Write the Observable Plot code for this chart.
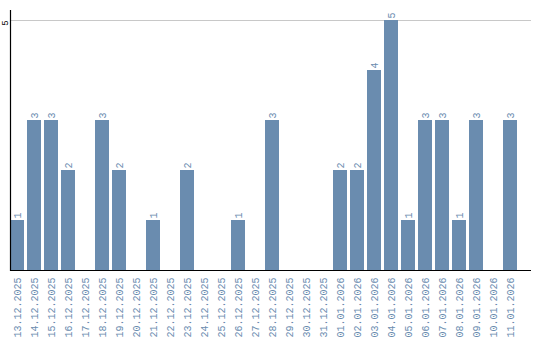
<!DOCTYPE html>
<html>
<head>
<meta charset="utf-8">
<script src="https://cdn.jsdelivr.net/npm/d3@7"></script>
<script src="https://cdn.jsdelivr.net/npm/@observablehq/plot@0.6"></script>
<style>
body { margin: 0; background: #fff; }
</style>
</head>
<body>
<div id="chart"></div>
<script>
const dates = ["13.12.2025","14.12.2025","15.12.2025","16.12.2025","17.12.2025","18.12.2025","19.12.2025","20.12.2025","21.12.2025","22.12.2025","23.12.2025","24.12.2025","25.12.2025","26.12.2025","27.12.2025","28.12.2025","29.12.2025","30.12.2025","31.12.2025","01.01.2026","02.01.2026","03.01.2026","04.01.2026","05.01.2026","06.01.2026","07.01.2026","08.01.2026","09.01.2026","10.01.2026","11.01.2026"];
const counts = [1,3,3,2,0,3,2,0,1,0,2,0,0,1,0,3,0,0,0,2,2,4,5,1,3,3,1,3,0,3];
const yTicks = [5];

const data = dates.map((d, i) => ({date: d, count: counts[i]}));
const nonZero = data.filter(d => d.count > 0);
const barColor = "#6a8caf";
const mono = "Liberation Mono";

const chart = Plot.plot({
  width: 540,
  height: 340,
  marginTop: 10,
  marginLeft: 10,
  marginRight: 9,
  marginBottom: 70,
  style: {fontFamily: mono, fontSize: "10px", background: "#fff"},
  x: {type: "band", domain: dates, range: [10, 517], paddingInner: 3 / 17, paddingOuter: 0, label: null, axis: null},
  y: {domain: [0, 5.2], label: null, axis: null},
  marks: [
    Plot.ruleY(yTicks, {stroke: "#c8c8c8", strokeWidth: 1}),
    Plot.barY(data, {x: "date", y: "count", fill: barColor}),
    Plot.text(nonZero, {x: "date", y: "count", text: d => String(d.count), rotate: -90, textAnchor: "start", dy: -2, fill: barColor, fontFamily: mono, fontSize: 10}),
    Plot.ruleY([0], {stroke: "#000", strokeWidth: 1.2}),
    Plot.frame({anchor: "left", stroke: "#000", strokeWidth: 1.2}),
    Plot.axisX({tickSize: 0, tickPadding: 7, tickRotate: -90, color: barColor, fontFamily: mono, fontSize: 10, label: null}),
    Plot.text(yTicks, {y: d => d, text: d => String(d), frameAnchor: "left", rotate: -90, textAnchor: "middle", lineAnchor: "middle", dx: -5.5, dy: 2.5, fill: "#000", fontFamily: mono, fontSize: 9})
  ]
});
document.getElementById("chart").appendChild(chart);
</script>
</body>
</html>
